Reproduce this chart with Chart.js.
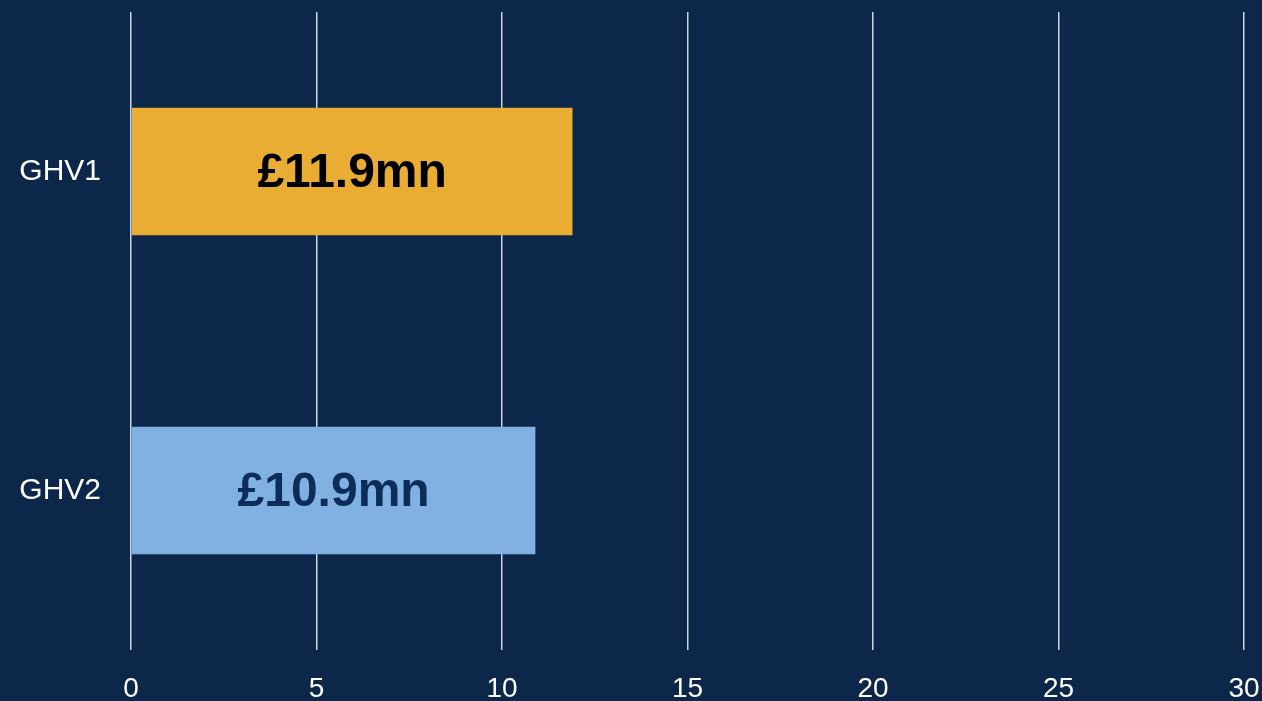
<!DOCTYPE html>
<html>
<head>
<meta charset="utf-8">
<script src="https://cdn.jsdelivr.net/npm/chart.js@4/dist/chart.umd.min.js"></script>
<style>
    html, body { margin: 0; padding: 0; background: #0c2749; overflow: hidden; }
    canvas { display: block; }
</style>
</head>
<body>
<canvas id="grafica" width="1290" height="720"></canvas>
<script>
const categorias = ['GHV1', 'GHV2'];
const valores = [11.9, 10.9];
const colores = ['#eaad34', '#81b0e3'];
const coloresTexto = ['#000000', '#0c2d5a'];
const ejeMin = 0, ejeMax = 30, ejePaso = 5;

// etiqueta centrada dentro de cada barra
const etiquetasBarras = {
    id: 'etiquetasBarras',
    afterDatasetsDraw(chart) {
        const ctx = chart.ctx;
        const meta = chart.getDatasetMeta(0);
        ctx.save();
        ctx.font = 'bold 48px "Liberation Sans", Arial, sans-serif';
        ctx.textAlign = 'center';
        ctx.textBaseline = 'middle';
        meta.data.forEach((bar, i) => {
            const v = chart.data.datasets[0].data[i];
            ctx.fillStyle = coloresTexto[i];
            ctx.fillText('£' + v.toFixed(1) + 'mn', (bar.base + bar.x) / 2, bar.y + 2);
        });
        ctx.restore();
    }
};

new Chart(document.getElementById('grafica'), {
    type: 'bar',
    data: {
        labels: categorias,
        datasets: [{
            data: valores,
            backgroundColor: colores,
            borderWidth: 0,
            categoryPercentage: 0.8,
            barPercentage: 0.5
        }]
    },
    options: {
        indexAxis: 'y',
        responsive: false,
        animation: false,
        layout: { padding: { top: 12, right: 46, bottom: 0, left: 0 } },
        plugins: { legend: { display: false }, tooltip: { enabled: false } },
        scales: {
            x: {
                min: ejeMin,
                max: ejeMax,
                afterFit: s => { s.height = 70; s.paddingLeft = 0; s.paddingRight = 0; },
                grid: { color: 'rgba(225,234,244,0.9)', lineWidth: 1.5, drawTicks: false },
                border: { display: false },
                ticks: {
                    stepSize: ejePaso,
                    padding: 22,
                    color: '#ffffff',
                    font: { family: '"Liberation Sans", Arial, sans-serif', size: 28 }
                }
            },
            y: {
                afterFit: s => { s.width = 131; s.paddingTop = 0; s.paddingBottom = 0; },
                grid: { display: false, drawTicks: false },
                border: { display: false },
                ticks: {
                    padding: 30,
                    color: '#ffffff',
                    font: { family: '"Liberation Sans", Arial, sans-serif', size: 30 }
                }
            }
        }
    },
    plugins: [etiquetasBarras]
});
</script>
</body>
</html>
